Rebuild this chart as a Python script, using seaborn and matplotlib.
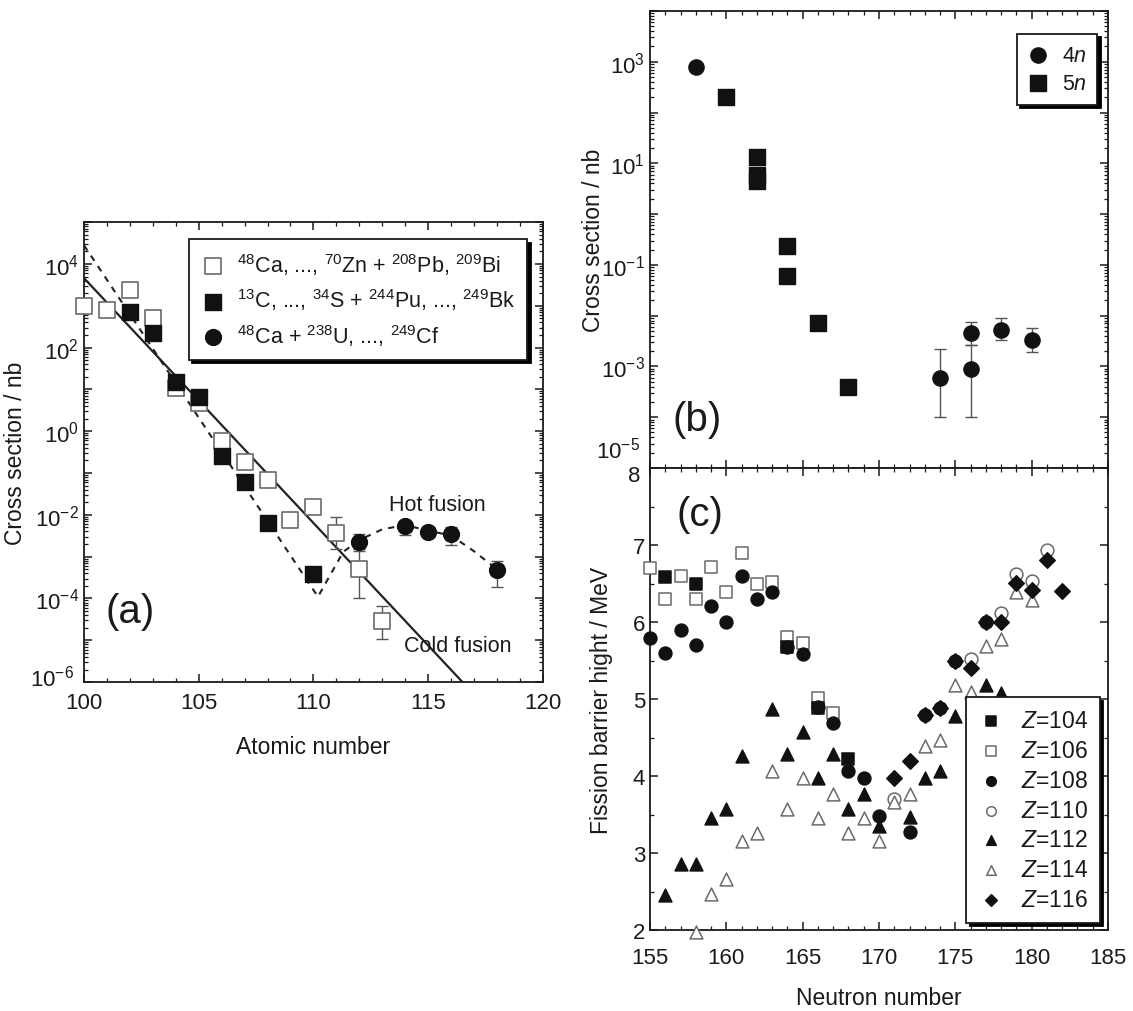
import matplotlib
matplotlib.use("Agg")
import matplotlib.pyplot as plt
import matplotlib.transforms as mtransforms
import numpy as np
import seaborn as sns
from matplotlib.ticker import MultipleLocator, LogLocator, FuncFormatter, NullFormatter

# ---- (a) cross section vs atomic number ----
a_cold_z = [100, 101, 102, 103, 104, 105, 106, 107, 108, 109, 110, 111, 112, 113]
a_cold_sigma = [1.0e3, 8.0e2, 2.4e3, 5.0e2, 11, 4.7, 0.59, 0.18, 0.068, 7.6e-3, 1.55e-2, 3.6e-3, 5.0e-4, 2.9e-5]
a_cold_err_z = [110, 111, 112, 113]
a_cold_err_sigma = [1.55e-2, 3.6e-3, 5.0e-4, 2.9e-5]
a_cold_err_lo = [1.1e-2, 1.5e-3, 1.0e-4, 1.1e-5]
a_cold_err_hi = [2.1e-2, 9.0e-3, 1.5e-3, 6.6e-5]

a_act_z = [102, 103, 104, 105, 106, 107, 108, 110]
a_act_sigma = [7.1e2, 2.2e2, 15, 6.6, 0.26, 0.06, 6.3e-3, 3.8e-4]

a_hot_z = [112, 114, 115, 116, 118]
a_hot_sigma = [2.3e-3, 5.4e-3, 3.9e-3, 3.5e-3, 4.8e-4]
a_hot_lo = [1.35e-3, 3.3e-3, 3.2e-3, 1.9e-3, 1.9e-4]
a_hot_hi = [3.5e-3, 7.0e-3, 4.6e-3, 5.0e-3, 8.0e-4]

cold_line_z = [100, 116.5]
cold_line_sigma = [4.6e3, 1.0e-6]
hot_curve_z = [100, 110.2, 111.3, 112, 113, 114, 115, 116, 117, 118]
hot_curve_sigma = [2.8e4, 1.1e-4, 1.3e-3, 2.5e-3, 4.5e-3, 5.7e-3, 4.2e-3, 3.2e-3, 1.35e-3, 5.0e-4]

a_labels = [r"$^{48}$Ca, ..., $^{70}$Zn + $^{208}$Pb, $^{209}$Bi",
            r"$^{13}$C, ..., $^{34}$S + $^{244}$Pu, ..., $^{249}$Bk",
            r"$^{48}$Ca + $^{238}$U, ..., $^{249}$Cf"]

# ---- (b) cross section vs neutron number ----
b_4n_n = [158, 174, 176, 176, 178, 180]
b_4n_sigma = [7.8e2, 5.8e-4, 4.6e-3, 9.0e-4, 5.2e-3, 3.3e-3]
b_4n_err_n = [174, 176, 176, 178, 180]
b_4n_err_sigma = [5.8e-4, 4.6e-3, 9.0e-4, 5.2e-3, 3.3e-3]
b_4n_lo = [1.0e-4, 2.6e-3, 1.0e-4, 3.3e-3, 1.9e-3]
b_4n_hi = [2.2e-3, 7.5e-3, 2.6e-3, 9.0e-3, 5.7e-3]
b_5n_n = [160, 162, 162, 162, 164, 164, 166, 168]
b_5n_sigma = [2.05e2, 13.5, 5.8, 4.4, 0.24, 0.059, 7.0e-3, 3.9e-4]

# ---- (c) fission barrier heights ----
z104_n = [156, 158, 164, 166, 168]
z104_b = [6.59, 6.49, 5.68, 4.88, 4.22]
z106_n = [155, 156, 157, 158, 159, 160, 161, 162, 163, 164, 165, 166, 167]
z106_b = [6.70, 6.30, 6.60, 6.30, 6.71, 6.39, 6.90, 6.49, 6.52, 5.80, 5.73, 5.01, 4.82]
z108_n = [155, 156, 157, 158, 159, 160, 161, 162, 163, 164, 165, 166, 167, 168, 169, 170, 172, 173, 174, 175, 177]
z108_b = [5.79, 5.60, 5.90, 5.70, 6.21, 6.00, 6.60, 6.30, 6.39, 5.68, 5.58, 4.90, 4.69, 4.07, 3.98, 3.48, 3.27, 4.79, 4.89, 5.50, 6.00]
z110_n = [171, 176, 178, 179, 180, 181]
z110_b = [3.70, 5.52, 6.12, 6.62, 6.53, 6.93]
z112_n = [156, 157, 158, 159, 160, 161, 163, 164, 165, 166, 167, 168, 169, 170, 172, 173, 174, 175, 177, 178]
z112_b = [2.45, 2.86, 2.86, 3.46, 3.57, 4.26, 4.87, 4.29, 4.57, 3.97, 4.29, 3.57, 3.77, 3.35, 3.47, 3.97, 4.07, 4.78, 5.18, 5.08]
z114_n = [158, 159, 160, 161, 162, 163, 164, 165, 166, 167, 168, 169, 170, 171, 172, 173, 174, 175, 176, 177, 178, 179, 180]
z114_b = [1.98, 2.47, 2.66, 3.16, 3.26, 4.07, 3.57, 3.97, 3.46, 3.77, 3.26, 3.46, 3.16, 3.66, 3.77, 4.39, 4.47, 5.18, 5.09, 5.69, 5.78, 6.39, 6.29]
z116_n = [171, 172, 173, 174, 175, 176, 177, 178, 179, 180, 181, 182]
z116_b = [3.97, 4.19, 4.79, 4.89, 5.50, 5.40, 6.00, 6.00, 6.51, 6.41, 6.81, 6.40]

sns.set_theme(style="ticks")
plt.rcParams["font.family"] = ["Liberation Sans", "DejaVu Sans"]
plt.rcParams.update({
    "mathtext.fontset": "custom",
    "mathtext.rm": "Liberation Sans",
    "mathtext.it": "Liberation Sans:italic",
    "mathtext.default": "regular",
    "axes.unicode_minus": False,
    "text.color": "#1a1a1a",
    "axes.labelcolor": "#1a1a1a",
    "xtick.color": "#1a1a1a",
    "ytick.color": "#1a1a1a",
    "xtick.direction": "in",
    "ytick.direction": "in",
    "xtick.top": True,
    "ytick.right": True,
    "xtick.major.size": 6,
    "ytick.major.size": 6,
    "xtick.minor.size": 3,
    "ytick.minor.size": 3,
    "xtick.major.width": 1.1,
    "ytick.major.width": 1.1,
    "xtick.minor.width": 0.9,
    "ytick.minor.width": 0.9,
    "axes.linewidth": 1.3,
    "axes.edgecolor": "#1a1a1a",
    "xtick.labelsize": 16,
    "ytick.labelsize": 16,
    "axes.labelsize": 16.5,
})

fig = plt.figure(figsize=(11.33, 10.12), dpi=100)
ax_a = fig.add_axes([0.0741, 0.325, 0.405, 0.4545])
ax_b = fig.add_axes([0.5737, 0.5366, 0.4042, 0.4516])
ax_c = fig.add_axes([0.5737, 0.080, 0.4042, 0.4565])

OPEN = "#6a6a6a"
FILL = "#111111"
SHADOW = {"ox": 2.5, "oy": -2.5, "shade": 1.0, "alpha": 1}


def leg_frame(leg):
    fr = leg.get_frame()
    fr.set_edgecolor("#1a1a1a")
    fr.set_linewidth(1.3)


def log_labels(keep, skip=()):
    def f(v, pos):
        e = int(round(np.log10(v)))
        if e % 2 != keep or e in skip:
            return ""
        return r"$10^{%d}$" % e
    return FuncFormatter(f)


def edge_label(ax, yval, text, dy_pt):
    # a y tick label nudged off the corner so it clears its neighbour
    tr = mtransforms.blended_transform_factory(ax.transAxes, ax.transData)
    tr = tr + mtransforms.ScaledTranslation(-7 / 72, dy_pt / 72, fig.dpi_scale_trans)
    ax.text(0, yval, text, transform=tr, fontsize=16, ha="right", va="center")


# ---------------- (a) ----------------
ax = ax_a
ax.set_yscale("log")
ax.errorbar(a_cold_err_z, a_cold_err_sigma,
            yerr=[np.array(a_cold_err_sigma) - np.array(a_cold_err_lo),
                  np.array(a_cold_err_hi) - np.array(a_cold_err_sigma)],
            fmt="none", ecolor="#555555", elinewidth=1.0, capsize=4, zorder=2)
ax.errorbar(a_hot_z, a_hot_sigma,
            yerr=[np.array(a_hot_sigma) - np.array(a_hot_lo),
                  np.array(a_hot_hi) - np.array(a_hot_sigma)],
            fmt="none", ecolor="#555555", elinewidth=1.0, capsize=4, zorder=2)
sns.lineplot(x=cold_line_z, y=cold_line_sigma, ax=ax, color="#222222", linewidth=1.6, zorder=1)
sns.lineplot(x=hot_curve_z, y=hot_curve_sigma, ax=ax, color="#222222", linewidth=1.5,
             linestyle=(0, (3, 3)), zorder=1)
sns.scatterplot(x=a_cold_z, y=a_cold_sigma, ax=ax, marker="s", s=135, color="white",
                edgecolor=OPEN, linewidth=1.2, label=a_labels[0], zorder=3, clip_on=False)
sns.scatterplot(x=a_act_z, y=a_act_sigma, ax=ax, marker="s", s=135, color=FILL,
                edgecolor=FILL, linewidth=1.0, label=a_labels[1], zorder=4, clip_on=False)
sns.scatterplot(x=a_hot_z, y=a_hot_sigma, ax=ax, marker="o", s=130, color=FILL,
                edgecolor=FILL, linewidth=1.0, label=a_labels[2], zorder=4, clip_on=False)
ax.set_xlim(100, 120)
ax.set_ylim(1e-6, 1e5)
ax.xaxis.set_major_locator(MultipleLocator(5))
ax.xaxis.set_minor_locator(MultipleLocator(1))
ax.tick_params(axis="x", which="major", pad=7)
ax.yaxis.set_major_locator(LogLocator(base=10, numticks=30))
ax.yaxis.set_minor_locator(LogLocator(base=10, subs=np.arange(2, 10), numticks=30))
ax.yaxis.set_major_formatter(log_labels(0, skip=(-6,)))
ax.yaxis.set_minor_formatter(NullFormatter())
edge_label(ax, 1e-6, r"$10^{-6}$", 3)
ax.set_xlabel("Atomic number", labelpad=16)
ax.set_ylabel("Cross section / nb", labelpad=6)
ax.text(115.4, 10 ** -1.75, "Hot fusion", fontsize=15.5, ha="center", va="center")
ax.text(116.3, 10 ** -5.12, "Cold fusion", fontsize=15.5, ha="center", va="center")
ax.text(0.10, 0.155, "(a)", transform=ax.transAxes, fontsize=29, ha="center", va="center")
leg = ax.legend(loc="upper right", bbox_to_anchor=(0.966, 0.963), borderaxespad=0,
                fontsize=15.5, fancybox=False, framealpha=1, handletextpad=0.5,
                labelspacing=0.45, borderpad=0.55, handlelength=1.2, shadow=SHADOW)
leg_frame(leg)

# ---------------- (b) ----------------
ax = ax_b
ax.set_yscale("log")
ax.errorbar(b_4n_err_n, b_4n_err_sigma,
            yerr=[np.array(b_4n_err_sigma) - np.array(b_4n_lo),
                  np.array(b_4n_hi) - np.array(b_4n_err_sigma)],
            fmt="none", ecolor="#555555", elinewidth=1.0, capsize=4, zorder=2)
sns.scatterplot(x=b_4n_n, y=b_4n_sigma, ax=ax, marker="o", s=120, color=FILL,
                edgecolor=FILL, linewidth=1.0, label=r"4$\mathit{n}$", zorder=4)
sns.scatterplot(x=b_5n_n, y=b_5n_sigma, ax=ax, marker="s", s=125, color=FILL,
                edgecolor=FILL, linewidth=1.0, label=r"5$\mathit{n}$", zorder=4)
ax.set_xlim(155, 185)
ax.set_ylim(1e-5, 1e4)
ax.xaxis.set_major_locator(MultipleLocator(5))
ax.xaxis.set_minor_locator(MultipleLocator(1))
ax.tick_params(axis="x", labelbottom=False)
ax.yaxis.set_major_locator(LogLocator(base=10, numticks=30))
ax.yaxis.set_minor_locator(LogLocator(base=10, subs=np.arange(2, 10), numticks=30))
ax.yaxis.set_major_formatter(log_labels(1, skip=(-5,)))
ax.yaxis.set_minor_formatter(NullFormatter())
edge_label(ax, 1e-5, r"$10^{-5}$", 13)
ax.set_ylabel("Cross section / nb", labelpad=-3)
ax.text(0.103, 0.107, "(b)", transform=ax.transAxes, fontsize=29, ha="center", va="center")
leg = ax.legend(loc="upper right", bbox_to_anchor=(0.977, 0.95), borderaxespad=0,
                fontsize=15.5, fancybox=False, framealpha=1, handletextpad=0.6,
                labelspacing=0.35, borderpad=0.5, handlelength=1.0, shadow=SHADOW)
leg_frame(leg)

# ---------------- (c) ----------------
ax = ax_c
c_series = [
    (z104_n, z104_b, "s", FILL, FILL, 80, r"$\mathit{Z}$=104"),
    (z106_n, z106_b, "s", "white", OPEN, 80, r"$\mathit{Z}$=106"),
    (z108_n, z108_b, "o", FILL, FILL, 85, r"$\mathit{Z}$=108"),
    (z110_n, z110_b, "o", "white", OPEN, 85, r"$\mathit{Z}$=110"),
    (z112_n, z112_b, "^", FILL, FILL, 85, r"$\mathit{Z}$=112"),
    (z114_n, z114_b, "^", "white", OPEN, 85, r"$\mathit{Z}$=114"),
    (z116_n, z116_b, "D", FILL, FILL, 62, r"$\mathit{Z}$=116"),
]
for xn, yb, mk, fc, ec, sz, lab in c_series:
    sns.scatterplot(x=xn, y=yb, ax=ax, marker=mk, s=sz, color=fc, edgecolor=ec,
                    linewidth=1.1, label=lab, zorder=3 if fc == "white" else 4, clip_on=False)
ax.set_xlim(155, 185)
ax.set_ylim(2, 8)
ax.xaxis.set_major_locator(MultipleLocator(5))
ax.xaxis.set_minor_locator(MultipleLocator(1))
ax.tick_params(axis="x", which="major", pad=12)
ax.yaxis.set_major_locator(MultipleLocator(1))
ax.yaxis.set_minor_locator(MultipleLocator(0.5))
ax.yaxis.set_major_formatter(FuncFormatter(lambda v, p: "" if v > 7.5 else "%d" % round(v)))
edge_label(ax, 8, "8", -5)
ax.set_xlabel("Neutron number", labelpad=13)
ax.set_ylabel("Fission barrier hight / MeV", labelpad=14)
ax.text(0.109, 0.90, "(c)", transform=ax.transAxes, fontsize=29, ha="center", va="center")
leg = ax.legend(loc="lower right", bbox_to_anchor=(0.982, 0.016), borderaxespad=0,
                fontsize=16.5, fancybox=False, framealpha=1, handletextpad=0.7,
                labelspacing=0.3, borderpad=0.5, handlelength=1.2, markerscale=0.75,
                shadow=SHADOW)
leg_frame(leg)

fig.savefig("out.png", dpi=100)
